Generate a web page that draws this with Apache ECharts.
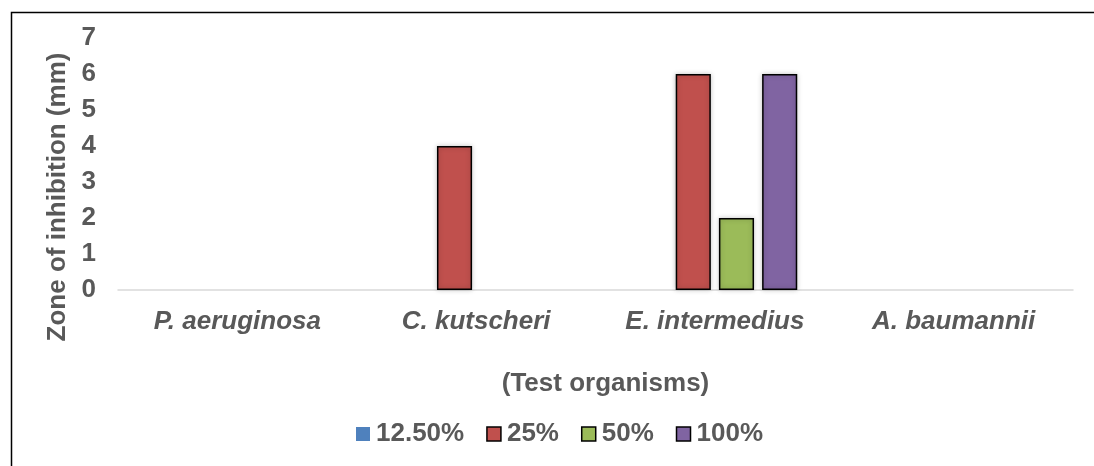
<!DOCTYPE html>
<html>
<head>
<meta charset="utf-8">
<script src="https://cdn.jsdelivr.net/npm/echarts@6/dist/echarts.min.js"></script>
<style>html,body{margin:0;padding:0;background:#fff}#c{width:1094px;height:466px}</style>
</head>
<body>
<div id="c"></div>
<script>
var categories = ['P. aeruginosa', 'C. kutscheri', 'E. intermedius', 'A. baumannii'];
var seriesNames = ['12.50%', '25%', '50%', '100%'];
var v12_5 = [0, 0, 0, 0];
var v25 = [0, 4, 6, 0];
var v50 = [0, 0, 2, 0];
var v100 = [0, 0, 6, 0];
var yTicks = [0, 1, 2, 3, 4, 5, 6, 7];
var colors = ['#4F81BD', '#C0504D', '#9BBB59', '#8064A2'];
var bordered = [false, true, true, true];

var allValues = [v12_5, v25, v50, v100];
var FONT = '"Liberation Sans", Arial, sans-serif';
var TXT = '#595959';
var FS = 26;

var chart = echarts.init(document.getElementById('c'), null, {renderer: 'canvas'});
var series = allValues.map(function (vals, i) {
  return {
    name: seriesNames[i],
    type: 'bar',
    barGap: '23%',
    barCategoryGap: '31%',
    itemStyle: {
      color: colors[i],
      borderColor: bordered[i] ? '#000' : 'transparent',
      borderWidth: bordered[i] ? 1.5 : 0,
      shadowBlur: 5,
      shadowColor: 'rgba(0,0,0,0.25)'
    },
    data: vals.map(function (v) {
      return v === 0 ? {value: v, itemStyle: {borderWidth: 0, shadowBlur: 0}} : v;
    })
  };
});

chart.setOption({
  animation: false,
  backgroundColor: '#fff',
  textStyle: {fontFamily: FONT},
  grid: {left: 118, right: 21, top: 38, bottom: 176, containLabel: false},
  legend: {
    left: 351, top: 416,
    itemWidth: 14, itemHeight: 14, itemGap: 22,
    icon: 'rect',
    textStyle: {fontFamily: FONT, fontSize: FS, fontWeight: 'bold', color: TXT, padding: [0, 0, 0, 1]},
    data: seriesNames.map(function (n, i) {
      return {name: n, itemStyle: {borderColor: bordered[i] ? '#000' : 'transparent', borderWidth: bordered[i] ? 1.5 : 0}};
    })
  },
  xAxis: {
    type: 'category',
    data: categories,
    axisLine: {lineStyle: {color: '#D9D9D9', width: 1.5}},
    axisTick: {show: false},
    axisLabel: {fontFamily: FONT, fontSize: FS, fontWeight: 'bold', fontStyle: 'italic', color: TXT, margin: 19},
    name: '(Test organisms)',
    nameLocation: 'middle',
    nameGap: 81,
    nameTextStyle: {fontFamily: FONT, fontSize: FS, fontWeight: 'bold', color: TXT, padding: [0, 0, 0, 20]}
  },
  yAxis: {
    type: 'value',
    min: yTicks[0], max: yTicks[yTicks.length - 1], interval: 1,
    axisLine: {show: false},
    axisTick: {show: false},
    splitLine: {show: false},
    axisLabel: {fontFamily: FONT, fontSize: FS, fontWeight: 'bold', color: TXT, margin: 22}
  },
  graphic: [
    {type: 'rect', left: 9, top: 10, shape: {width: 1200, height: 600}, style: {fill: 'none', stroke: '#000', lineWidth: 1.5}, silent: true},
    {type: 'text', x: 58, y: 197, rotation: Math.PI / 2,
     style: {text: 'Zone of inhibition (mm)', fontFamily: FONT, fontSize: FS, fontWeight: 'bold', fill: TXT, align: 'center', verticalAlign: 'middle'}}
  ],
  series: series
});
</script>
</body>
</html>
